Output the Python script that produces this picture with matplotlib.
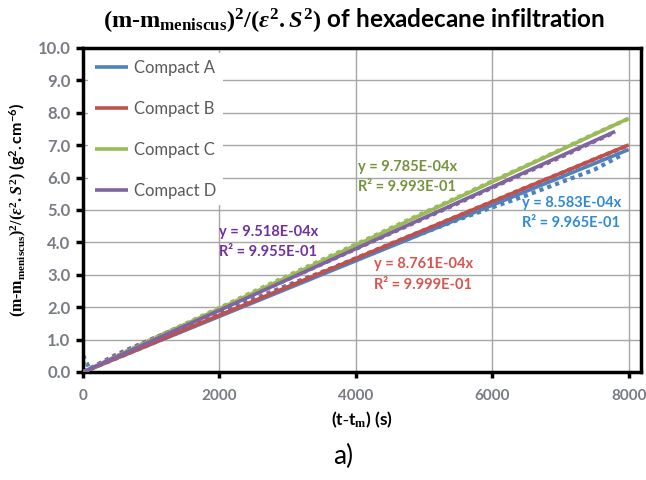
import numpy as np
import matplotlib
matplotlib.use("Agg")
import matplotlib.pyplot as plt

plt.rcParams['font.family'] = ['Lato', 'DejaVu Sans']
plt.rcParams['mathtext.fontset'] = 'custom'
plt.rcParams['mathtext.rm'] = 'Liberation Serif:bold'
plt.rcParams['mathtext.it'] = 'Liberation Serif:italic:bold'
plt.rcParams['mathtext.bf'] = 'Liberation Serif:bold'
plt.rcParams['mathtext.sf'] = 'Lato:bold'

t_A = [0, 100, 500, 1000, 1500, 2000, 2500, 3000, 3500, 4000, 4500, 5000, 5500, 6000, 6500, 7000, 7500, 7900]
y_A = [0.52, 0.08, 0.48, 0.92, 1.38, 1.82, 2.25, 2.68, 3.08, 3.50, 3.90, 4.30, 4.70, 5.08, 5.45, 5.85, 6.25, 6.70]
t_B = [0, 500, 1000, 1500, 2000, 2500, 3000, 3500, 4000, 4500, 5000, 5500, 6000, 6500, 7000, 7500, 8000]
y_B = [0.0, 0.43, 0.87, 1.31, 1.75, 2.19, 2.63, 3.07, 3.51, 3.95, 4.38, 4.82, 5.26, 5.70, 6.13, 6.57, 7.00]
t_C = [0, 100, 500, 1000, 1500, 2000, 2500, 3000, 3500, 4000, 4500, 5000, 5500, 6000, 6500, 7000, 7500, 8000]
y_C = [0.30, 0.06, 0.50, 1.00, 1.49, 1.98, 2.48, 2.97, 3.46, 3.94, 4.43, 4.92, 5.40, 5.89, 6.37, 6.86, 7.35, 7.82]
t_D = [0, 500, 1000, 1500, 2000, 2500, 3000, 3500, 4000, 4500, 5000, 5500, 6000, 6500, 7000, 7500, 7800]
y_D = [0.0, 0.55, 1.01, 1.46, 1.92, 2.39, 2.86, 3.33, 3.80, 4.27, 4.74, 5.21, 5.69, 6.16, 6.63, 7.12, 7.40]

labels = ['Compact A', 'Compact B', 'Compact C', 'Compact D']
slopes = [8.583e-4, 8.761e-4, 9.785e-4, 9.518e-4]
r2 = [0.9965, 0.9999, 0.9993, 0.9955]
t_end = [8000, 8000, 8000, 7800]
colors = ['#4F81BD', '#C0504D', '#9BBB59', '#8064A2']
text_colors = ['#2F8AD8', '#D9534F', '#76923C', '#7030A0']
# equation label anchors (data coords)
eq_pos = [(6440, 5.23), (4270, 3.32), (4025, 6.34), (2000, 4.31)]

fig = plt.figure(figsize=(6.46, 4.8), dpi=100)
ax = fig.add_axes([83 / 646, 1 - 372 / 480, (641 - 83) / 646, (372 - 48) / 480])

series = [(t_A, y_A), (t_B, y_B), (t_C, y_C), (t_D, y_D)]
for (t, y), c in zip(series, colors):
    ax.plot(t, y, ls=(0, (1, 1)), lw=3, color=c, zorder=2)

handles = []
for i in range(4):
    xx = np.array([0, t_end[i]])
    h, = ax.plot(xx, slopes[i] * xx, color=colors[i], lw=2.6, zorder=3,
                 label=labels[i], solid_capstyle='butt')
    handles.append(h)
    x0, y0 = eq_pos[i]
    ax.text(x0, y0, f"y = {slopes[i]:.3E}x", color=text_colors[i],
            fontsize=10.5, fontweight='bold', ha='left', va='center', zorder=5)
    ax.text(x0, y0 - 0.62, f"R² = {r2[i]:.3E}", color=text_colors[i],
            fontsize=10.5, fontweight='bold', ha='left', va='center', zorder=5)

ax.set_xlim(0, 8180)
ax.set_ylim(0, 10)
ax.set_xticks([0, 2000, 4000, 6000, 8000])
ax.set_yticks(np.arange(0, 11, 1))
ax.set_yticklabels([f"{v:.1f}" for v in np.arange(0, 11, 1)])
ax.grid(True, color='#a6a6a6', lw=1)
ax.set_axisbelow(True)
for s in ax.spines.values():
    s.set_linewidth(2.5)
    s.set_color('black')
ax.tick_params(axis='y', direction='out', length=5, width=2.5, pad=4,
               labelcolor='#7a7c85', labelsize=12)
ax.tick_params(axis='x', direction='out', length=4, width=2.5, pad=8,
               labelcolor='#7a7c85', labelsize=11)
for lab in ax.get_xticklabels() + ax.get_yticklabels():
    lab.set_fontweight('bold')

leg = ax.legend(handles=handles, loc='upper left', fontsize=12, labelspacing=1.5,
                handlelength=2.0, handletextpad=0.35, borderaxespad=0.3,
                frameon=True, fancybox=False, framealpha=1, edgecolor='none',
                facecolor='white')
for t in leg.get_texts():
    t.set_color('#595959')
leg.set_zorder(6)

ax.set_xlabel(r'$\mathsf{(t\text{-}t}_{\mathrm{m}}\mathsf{)\ (s)}$', fontsize=12.5, labelpad=5)
ax.set_ylabel(r'$\mathrm{(m\text{-}m_{meniscus})^2/(}\varepsilon^2\mathrm{.}S^2\mathrm{)}\ \mathsf{(g^2.cm^{-6})}$',
              fontsize=11.5, labelpad=6)

fig.text(0.548, 0.958,
         r'$\mathrm{(m\text{-}m_{meniscus})^2/(}\varepsilon^2\mathrm{.}S^2\mathrm{)}\ \mathsf{of\ hexadecane\ infiltration}$',
         ha='center', va='center', fontsize=17.5)
fig.text(0.531, 0.05, 'a)', ha='center', va='center', fontsize=19)

fig.savefig('out.png', dpi=100)
